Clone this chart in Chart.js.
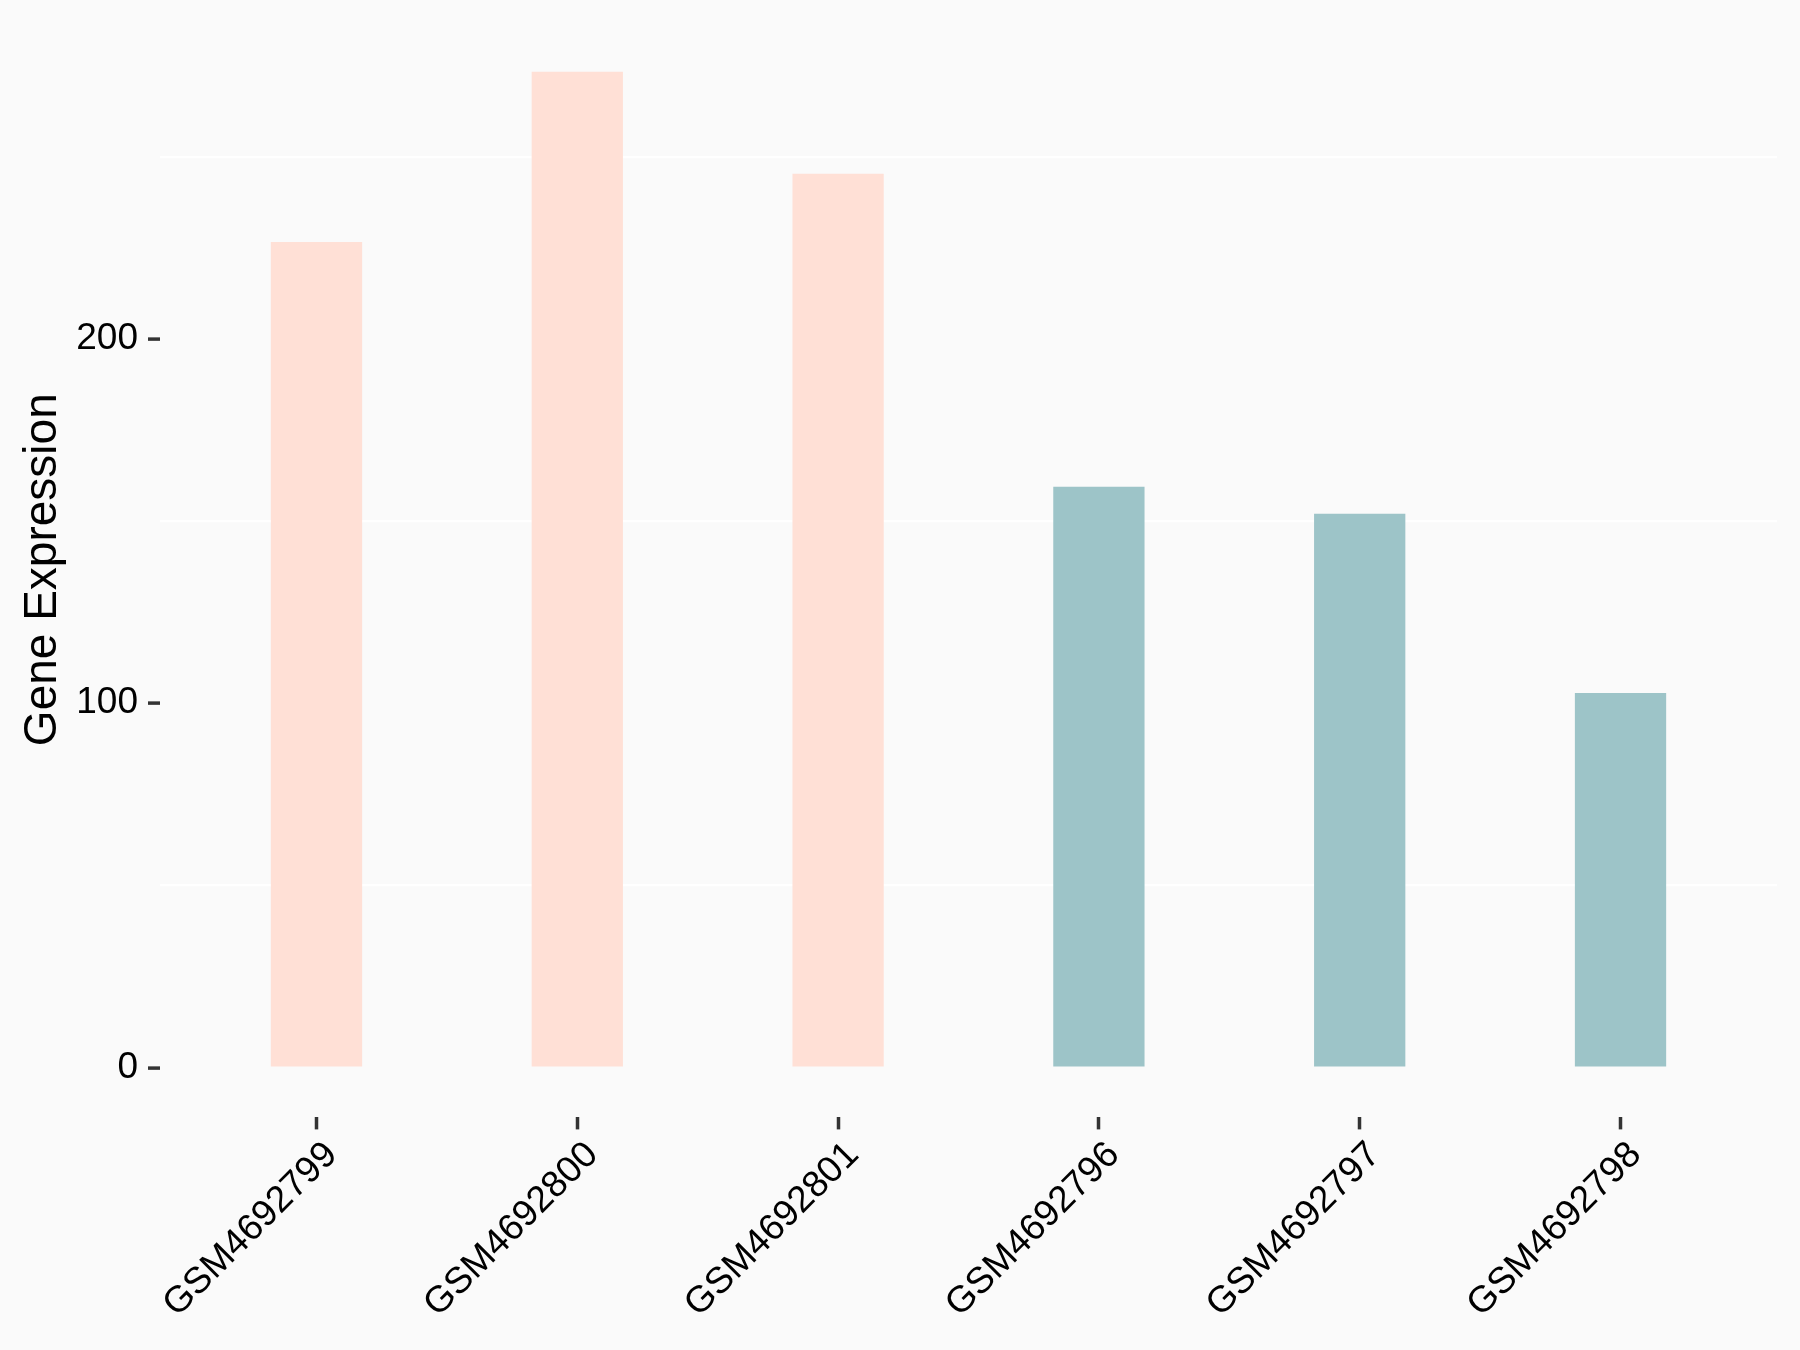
<!DOCTYPE html>
<html>
<head>
<meta charset="utf-8">
<title>Gene Expression</title>
<script src="https://cdn.jsdelivr.net/npm/chart.js@4.4.1/dist/chart.umd.min.js"></script>
<style>
  html, body { margin: 0; padding: 0; background: #FAFAFA; }
  canvas { display: block; }
</style>
</head>
<body>
<canvas id="chart" width="1800" height="1350"></canvas>
<script>
// Samples, in plotting order
const categories = ['GSM4692799', 'GSM4692800', 'GSM4692801', 'GSM4692796', 'GSM4692797', 'GSM4692798'];
// Expression values
const expression = [226.6, 273.3, 245.3, 159.4, 152.0, 102.8];
// Which group each sample belongs to (0 = first group, 1 = second)
const groupIndex = [0, 0, 0, 1, 1, 1];
// Labelled y ticks and the faint in-between grid lines
const majorTicks = [0, 100, 200];
const minorGrid = [50, 150, 250];

const palette = ['#FFE0D6', '#9DC4C8'];
const fontFamily = '"Liberation Sans", Arial, Helvetica, sans-serif';

// ggplot-like 5% expansion on the value axis, 0.6 units on the discrete axis
const peak = Math.max(...expression);
const yMin = -0.05 * peak;
const yMax = 1.05 * peak;

const ctx = document.getElementById('chart').getContext('2d');

new Chart(ctx, {
    type: 'bar',
    data: {
        datasets: [{
            data: expression.map((v, i) => ({ x: i, y: v })),
            backgroundColor: groupIndex.map(g => palette[g]),
            borderWidth: 0,
            barPercentage: 0.35,
            categoryPercentage: 1
        }]
    },
    options: {
        responsive: false,
        animation: false,
        devicePixelRatio: 1,
        layout: { padding: { top: 22, right: 23, bottom: 0, left: 0 } },
        plugins: {
            legend: { display: false },
            tooltip: { enabled: false }
        },
        scales: {
            x: {
                type: 'linear',
                min: -0.6,
                max: 5.6,
                offset: false,
                afterBuildTicks: scale => {
                    scale.ticks = categories.map((c, i) => ({ value: i }));
                },
                afterFit: scale => {
                    scale.height = 232.6;
                    scale.paddingLeft = 0;
                    scale.paddingRight = 0;
                },
                border: { display: false },
                grid: {
                    offset: false,
                    drawOnChartArea: false,
                    color: '#333333',
                    tickColor: '#333333',
                    tickLength: 12,
                    tickWidth: 3.5
                },
                ticks: {
                    autoSkip: false,
                    minRotation: 45,
                    maxRotation: 45,
                    color: '#000000',
                    padding: 4,
                    labelOffset: 15,
                    font: { family: fontFamily, size: 37 },
                    callback: v => categories[v]
                }
            },
            y: {
                min: yMin,
                max: yMax,
                afterBuildTicks: scale => {
                    scale.ticks = majorTicks.concat(minorGrid)
                        .sort((a, b) => a - b)
                        .map(v => ({ value: v }));
                },
                afterFit: scale => {
                    scale.width = 160;
                    scale.paddingTop = 0;
                    scale.paddingBottom = 0;
                },
                border: { display: false },
                grid: {
                    color: c => minorGrid.includes(c.tick.value) ? '#FFFFFF' : 'rgba(0,0,0,0)',
                    lineWidth: 2.2,
                    tickColor: c => majorTicks.includes(c.tick.value) ? '#333333' : 'rgba(0,0,0,0)',
                    tickLength: 12,
                    tickWidth: 3.5
                },
                ticks: {
                    color: '#000000',
                    padding: 10,
                    font: { family: fontFamily, size: 37 },
                    callback: v => majorTicks.includes(v) ? String(v) : ''
                },
                title: {
                    display: true,
                    text: 'Gene Expression',
                    color: '#000000',
                    font: { family: fontFamily, size: 46 },
                    padding: { top: 16, bottom: 0 }
                }
            }
        }
    }
});
</script>
</body>
</html>
